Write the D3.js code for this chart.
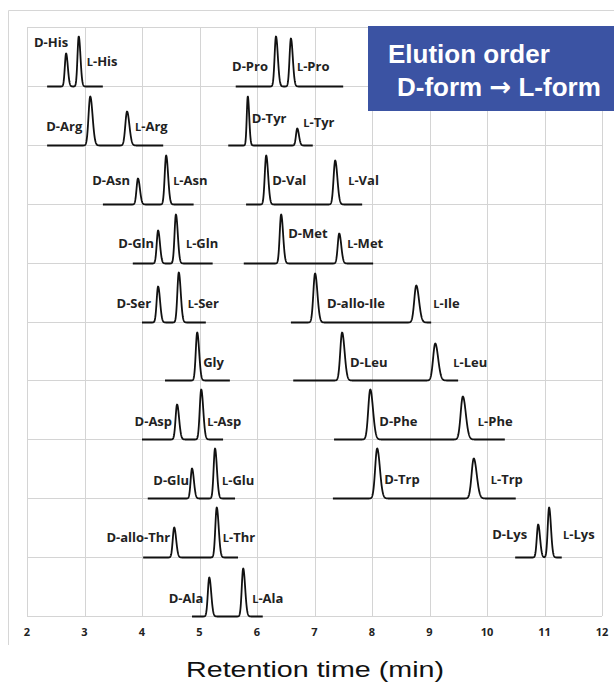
<!DOCTYPE html>
<html>
<head>
<meta charset="utf-8">
<script src="https://cdn.jsdelivr.net/npm/d3@7"></script>
<style>
  body { margin: 0; background: #fff; }
  .peak-label { font-family: "Open Sans", sans-serif; font-weight: 700; font-size: 13px; fill: #222; }
  .tick-label { font-family: "Open Sans", sans-serif; font-weight: 700; font-size: 11px; fill: #222; }
</style>
</head>
<body>
<svg id="chart" width="614" height="685"></svg>
<script>
// peaks, in drawing order (row 0 = top)
var peakNames = ["D-His","L-His","D-Pro","L-Pro","D-Arg","L-Arg","D-Tyr","L-Tyr",
  "D-Asn","L-Asn","D-Val","L-Val","D-Gln","L-Gln","D-Met","L-Met",
  "D-Ser","L-Ser","D-allo-Ile","L-Ile","Gly","D-Leu","L-Leu",
  "D-Asp","L-Asp","D-Phe","L-Phe","D-Glu","L-Glu","D-Trp","L-Trp",
  "D-allo-Thr","L-Thr","D-Lys","L-Lys","D-Ala","L-Ala"];
var peakTimes = [2.68,2.90,6.33,6.59,3.10,3.74,5.84,6.70,
  3.93,4.42,6.16,7.36,4.28,4.59,6.42,7.43,
  4.28,4.64,7.01,8.77,4.96,7.48,9.10,
  4.61,5.03,7.97,9.58,4.87,5.27,8.09,9.77,
  4.56,5.30,10.89,11.08,5.17,5.76];
var peakHeights = [66,100,100,96,98,68,98,34,
  52,98,98,88,66,98,98,60,
  72,100,98,74,96,96,74,
  70,100,100,86,60,100,100,80,
  60,100,66,100,78,96];
var peakWidths = [0.022,0.022,0.024,0.024,0.030,0.030,0.018,0.022,
  0.025,0.025,0.025,0.028,0.024,0.024,0.025,0.026,
  0.025,0.025,0.030,0.035,0.025,0.032,0.037,
  0.026,0.026,0.035,0.038,0.024,0.024,0.035,0.038,
  0.025,0.025,0.024,0.024,0.025,0.025];
var peakTrace = [0,0,1,1,2,2,3,3,4,4,5,5,6,6,7,7,8,8,9,9,10,11,11,
  12,12,13,13,14,14,15,15,16,16,17,17,18,18];

// chromatogram traces
var traceRows   = [0,0,1,1,2,2,3,3,4,4,5,5,6,6,7,7,8,8,9];
var traceStarts = [2.35,5.63,2.35,5.50,3.32,5.81,3.84,5.77,4.00,6.59,4.40,6.63,4.00,7.34,4.10,7.32,4.02,10.49,4.87];
var traceEnds   = [3.32,7.50,4.37,6.97,4.90,7.83,5.23,8.02,5.11,9.03,5.53,9.50,5.41,10.31,5.62,10.50,5.67,11.30,6.10];

var tickLabels = [2,3,4,5,6,7,8,9,10,11,12];
var rowCount = 10;

// label placement: [anchor, dx, dy] from the peak on its baseline
var labelLayout = [
  ["end",2,-43],["start",8,-24],["end",-8,-19],["start",6,-19],
  ["end",-8,-18],["start",8,-18],["start",4,-26],["start",6,-22],
  ["end",-8,-23],["start",7,-23],["start",6,-23],["start",13,-23],
  ["end",-4,-19],["start",10,-19],["start",7,-29],["start",8,-19],
  ["end",-7,-18],["start",9,-18],["start",12,-18],["start",17,-18],
  ["start",6,-18],["start",8,-18],["start",18,-18],
  ["end",-5,-18],["start",6,-18],["start",9,-18],["start",15,-18],
  ["end",-3,-18],["start",7,-18],["start",7,-19],["start",17,-19],
  ["end",-4,-20],["start",6,-20],["end",-11,-23],["start",14,-23],
  ["end",-6,-18],["start",9,-18]];

function drawChart() {
  var svg = d3.select("#chart");
  var plotLeft = 27, plotRight = 602, plotTop = 27, plotBottom = 616;

  var x = d3.scaleLinear().domain([2, 12]).range([plotLeft, plotRight]);
  var yRow = d3.scaleLinear().domain([0, rowCount]).range([plotTop, plotBottom]);
  var yInt = d3.scaleLinear().domain([0, 100]).range([0, 50]);

  function rowOf(i) { return traceRows[peakTrace[i]]; }

  // outer frame (top + left only visible)
  svg.append("path")
    .attr("d", "M8.5,645V10.5H614")
    .attr("fill", "none")
    .attr("stroke", "#d6d6d6")
    .attr("stroke-width", 1);

  // grid
  var grid = svg.append("g").attr("stroke", "#d4d4d4").attr("stroke-width", 1);
  grid.selectAll(".vline")
    .data(tickLabels)
    .enter().append("line")
      .attr("class", "vline")
      .attr("x1", function(d) { return Math.round(x(d)) + 0.5; })
      .attr("x2", function(d) { return Math.round(x(d)) + 0.5; })
      .attr("y1", plotTop).attr("y2", plotBottom);
  grid.selectAll(".hline")
    .data(d3.range(rowCount + 1))
    .enter().append("line")
      .attr("class", "hline")
      .attr("x1", plotLeft).attr("x2", plotRight)
      .attr("y1", function(d) { return Math.round(yRow(d)) + 0.5; })
      .attr("y2", function(d) { return Math.round(yRow(d)) + 0.5; });

  // tick labels
  svg.append("g")
    .selectAll("text")
    .data(tickLabels)
    .enter().append("text")
      .attr("class", "tick-label")
      .attr("x", function(d) { return x(d); })
      .attr("y", 632)
      .attr("dy", "0.35em")
      .attr("text-anchor", "middle")
      .text(function(d) { return d; });

  // traces: sum of slightly tailing gaussians
  function signal(traceIdx, t) {
    var s = 0;
    peakTrace.forEach(function(p, i) {
      if (p !== traceIdx) return;
      var sd = t < peakTimes[i] ? peakWidths[i] : peakWidths[i] * 1.35;
      var z = (t - peakTimes[i]) / sd;
      s += peakHeights[i] * Math.exp(-0.5 * z * z);
    });
    return s;
  }

  var line = d3.line()
    .x(function(d) { return x(d.t); })
    .y(function(d) { return d.base - yInt(d.v); });

  traceRows.forEach(function(r, k) {
    var base = Math.round(yRow(r + 1)) + 0.5;
    var pts = d3.range(traceStarts[k], traceEnds[k] + 0.0001, 0.003).map(function(t) {
      return { t: t, v: signal(k, t), base: base };
    });
    svg.append("path")
      .attr("d", line(pts))
      .attr("fill", "none")
      .attr("stroke", "#111")
      .attr("stroke-width", 1.8)
      .attr("stroke-linejoin", "round");
  });

  // peak labels, L in small caps
  var labels = svg.append("g");
  peakNames.forEach(function(name, i) {
    var lay = labelLayout[i];
    var txt = labels.append("text")
      .attr("class", "peak-label")
      .attr("x", x(peakTimes[i]) + lay[1])
      .attr("y", yRow(rowOf(i) + 1) + lay[2])
      .attr("dy", "0.35em")
      .attr("text-anchor", lay[0]);
    if (name.charAt(0) === "L") {
      txt.append("tspan").attr("font-size", "11px").text("L");
      txt.append("tspan").text(name.slice(1));
    } else {
      txt.text(name);
    }
  });

  // elution order box
  svg.append("rect")
    .attr("x", 368).attr("y", 26)
    .attr("width", 250).attr("height", 85)
    .attr("fill", "#3b53a3");
  svg.append("text")
    .attr("x", 388).attr("y", 63)
    .attr("fill", "#fff")
    .style("font-family", "'Liberation Sans', Arial, sans-serif")
    .style("font-weight", 700)
    .style("font-size", "26px")
    .text("Elution order");
  var second = svg.append("text")
    .attr("x", 397).attr("y", 96)
    .attr("fill", "#fff")
    .style("font-family", "'Liberation Sans', Arial, sans-serif")
    .style("font-weight", 700)
    .style("font-size", "26px");
  second.append("tspan").text("D-form ");
  second.append("tspan").style("font-family", "'DejaVu Sans', sans-serif").text("\u2192");
  second.append("tspan").text(" L-form");

  // axis title
  svg.append("text")
    .attr("x", 186).attr("y", 677)
    .attr("textLength", 258)
    .attr("lengthAdjust", "spacingAndGlyphs")
    .attr("fill", "#111")
    .style("font-family", "'Liberation Sans', Arial, sans-serif")
    .style("font-size", "22px")
    .text("Retention time (min)");
}

drawChart();
</script>
</body>
</html>
